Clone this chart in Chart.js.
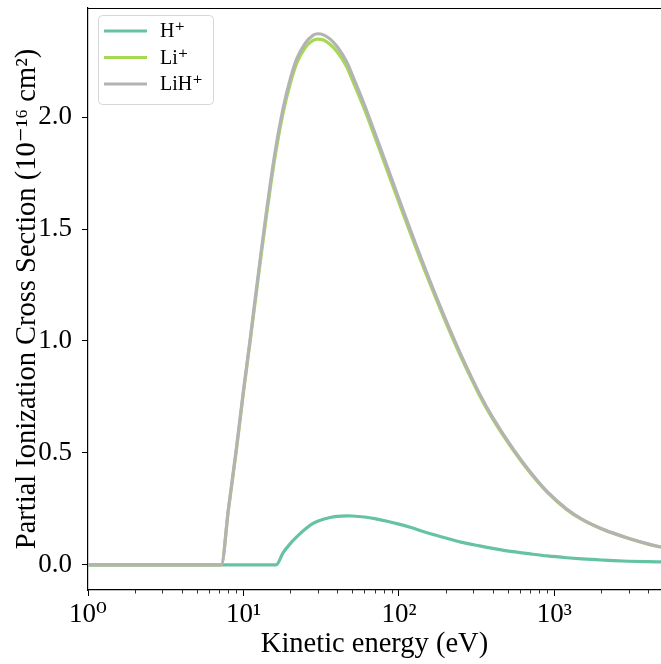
<!DOCTYPE html>
<html>
<head>
<meta charset="utf-8">
<script src="https://cdn.jsdelivr.net/npm/chart.js@4/dist/chart.umd.min.js"></script>
<style>
  html, body { margin: 0; padding: 0; background: #fff; }
  #wrap { width: 661px; height: 664px; }
</style>
</head>
<body>
<div id="wrap"><canvas id="xsChart" width="661" height="664"></canvas></div>
<script>
// kinetic energy grid (eV)
const energy = [1, 2, 4, 7.2, 8, 9, 10, 11, 12, 13, 14, 15, 16.2, 18, 20, 22, 25, 28, 30, 33, 36, 40,
  46, 50, 60, 70, 84, 100, 118, 150, 200, 250, 330, 400, 540, 700, 900, 1200, 1500, 2000, 2400, 3000, 4000, 4850];

// partial ionization cross sections (1e-16 cm^2)
const hPlus = [0, 0, 0, 0, 0, 0, 0, 0, 0, 0, 0, 0, 0, 0.055, 0.095, 0.125, 0.16, 0.185, 0.195, 0.205, 0.212, 0.217,
  0.219, 0.2185, 0.214, 0.207, 0.195, 0.182, 0.168, 0.145, 0.12, 0.102, 0.085, 0.074, 0.059, 0.049, 0.04, 0.032, 0.027, 0.022,
  0.019, 0.0165, 0.0145, 0.0135];
const liPlus = [0, 0, 0, 0, 0.245, 0.51, 0.77, 0.99, 1.195, 1.385, 1.55, 1.70, 1.85, 2.02, 2.15, 2.24, 2.31, 2.342, 2.348, 2.343, 2.325, 2.292,
  2.226, 2.168, 2.035, 1.911, 1.762, 1.619, 1.485, 1.297, 1.084, 0.93, 0.757, 0.653, 0.515, 0.41, 0.324, 0.247, 0.203, 0.161,
  0.14, 0.118, 0.093, 0.079];
const lihPlus = [0, 0, 0, 0, 0.25, 0.52, 0.78, 1.0, 1.21, 1.40, 1.57, 1.72, 1.87, 2.04, 2.17, 2.26, 2.33, 2.365, 2.372, 2.366, 2.349, 2.315,
  2.248, 2.19, 2.055, 1.93, 1.78, 1.635, 1.50, 1.31, 1.095, 0.94, 0.765, 0.66, 0.52, 0.415, 0.327, 0.25, 0.205, 0.163,
  0.142, 0.119, 0.094, 0.08];

const seriesNames = ['H⁺', 'Li⁺', 'LiH⁺'];
const seriesColors = ['#66c2a5', '#a6d854', '#b3b3b3'];

const xTicks = [1, 10, 100, 1000];
const xTickLabels = ['10⁰', '10¹', '10²', '10³'];
const yTicks = [0, 0.5, 1.0, 1.5, 2.0];

const serif = "'Liberation Serif', 'DejaVu Serif', serif";

function toPoints(ys) {
  return energy.map((e, i) => ({ x: e, y: ys[i] }));
}

// short minor ticks on the log axis, plus the top spine
const framePlugin = {
  id: 'frame',
  afterDraw(chart) {
    const { ctx, chartArea } = chart;
    const xs = chart.scales.x;
    ctx.save();
    ctx.strokeStyle = '#000';
    ctx.lineWidth = 1.2;
    ctx.beginPath();
    ctx.moveTo(chartArea.left, chartArea.top + 0.5);
    ctx.lineTo(chartArea.right, chartArea.top + 0.5);
    ctx.stroke();

    ctx.lineWidth = 0.8;
    ctx.beginPath();
    for (let d = 1; d <= 1000; d *= 10) {
      for (let m = 2; m <= 9; m++) {
        const v = m * d;
        if (v > xs.max) break;
        const px = Math.round(xs.getPixelForValue(v)) + 0.5;
        ctx.moveTo(px, chartArea.bottom);
        ctx.lineTo(px, chartArea.bottom + 3.5);
      }
    }
    ctx.stroke();
    ctx.restore();
  }
};

// framed legend in the upper left corner of the plot
const boxLegend = {
  id: 'boxLegend',
  afterDatasetsDraw(chart) {
    const { ctx, chartArea } = chart;
    const x0 = chartArea.left + 10, y0 = chartArea.top + 7;
    const w = 115, h = 89, r = 4;
    ctx.save();
    ctx.beginPath();
    ctx.roundRect(x0 + 0.5, y0 + 0.5, w, h, r);
    ctx.fillStyle = 'rgba(255,255,255,0.8)';
    ctx.fill();
    ctx.strokeStyle = '#d6d6d6';
    ctx.lineWidth = 1;
    ctx.stroke();

    ctx.font = '20px ' + serif;
    ctx.textBaseline = 'middle';
    seriesNames.forEach((name, i) => {
      const y = y0 + 16 + i * 26.5;
      ctx.strokeStyle = seriesColors[i];
      ctx.lineWidth = 3;
      ctx.beginPath();
      ctx.moveTo(x0 + 6, y);
      ctx.lineTo(x0 + 49, y);
      ctx.stroke();
      ctx.fillStyle = '#000';
      ctx.fillText(name, x0 + 62, y + 1);
    });
    ctx.restore();
  }
};

new Chart(document.getElementById('xsChart'), {
  type: 'line',
  data: {
    // later series sit on top, so order runs downward
    datasets: [hPlus, liPlus, lihPlus].map((ys, i) => ({
      label: seriesNames[i],
      data: toPoints(ys),
      order: 2 - i,
      borderColor: seriesColors[i],
      backgroundColor: seriesColors[i],
      borderWidth: 3.2,
      pointRadius: 0,
      cubicInterpolationMode: 'monotone',
      fill: false
    }))
  },
  options: {
    responsive: false,
    animation: false,
    layout: { padding: { top: 8, right: 0, bottom: 0, left: 0 } },
    plugins: {
      legend: { display: false },
      tooltip: { enabled: false }
    },
    scales: {
      x: {
        type: 'logarithmic',
        min: 1,
        max: 4850,
        afterBuildTicks: s => { s.ticks = xTicks.map(v => ({ value: v })); },
        afterFit: s => { s.height = 74; s.paddingLeft = 0; s.paddingRight = 0; },
        grid: { drawOnChartArea: false, drawTicks: true, tickLength: 6, tickColor: '#000', tickWidth: 1 },
        border: { color: '#000', width: 1.2 },
        ticks: {
          color: '#000',
          padding: 3,
          maxRotation: 0,
          autoSkip: false,
          font: { family: serif, size: 27 },
          callback: v => xTickLabels[xTicks.indexOf(v)] || ''
        },
        title: {
          display: true,
          text: 'Kinetic energy (eV)',
          color: '#000',
          font: { family: serif, size: 28.5 },
          padding: { top: 0, bottom: 2 }
        }
      },
      y: {
        min: -0.112,
        max: 2.487,
        afterBuildTicks: s => { s.ticks = yTicks.map(v => ({ value: v })); },
        afterFit: s => { s.width = 88; s.paddingTop = 0; s.paddingBottom = 0; },
        grid: { drawOnChartArea: false, drawTicks: true, tickLength: 6, tickColor: '#000', tickWidth: 1 },
        border: { color: '#000', width: 1.2 },
        ticks: {
          color: '#000',
          padding: 10,
          font: { family: serif, size: 27 },
          callback: v => v.toFixed(1)
        },
        title: {
          display: true,
          text: 'Partial Ionization Cross Section (10⁻¹⁶ cm²)',
          color: '#000',
          font: { family: serif, size: 28.5 },
          padding: { top: 10, bottom: 0 }
        }
      }
    }
  },
  plugins: [framePlugin, boxLegend]
});
</script>
</body>
</html>
